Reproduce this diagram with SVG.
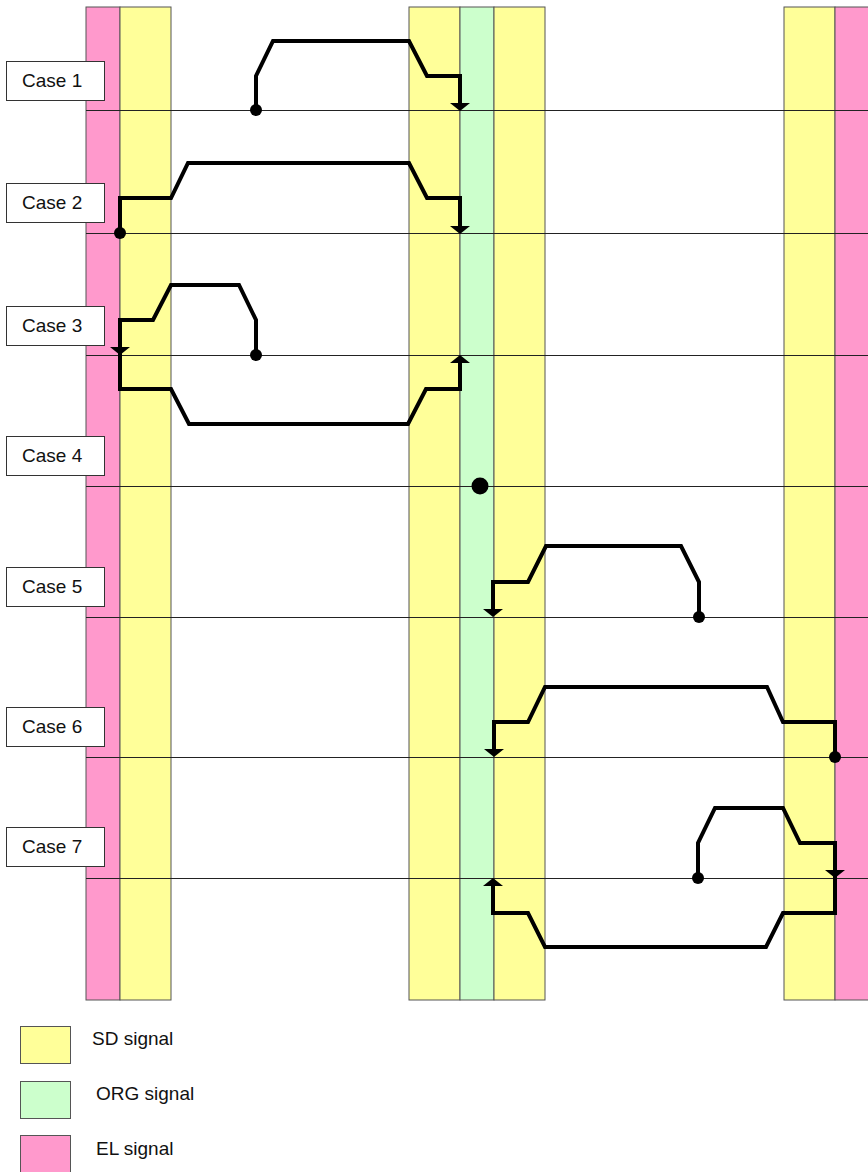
<svg xmlns="http://www.w3.org/2000/svg" xmlns:xlink="http://www.w3.org/1999/xlink" width="868" height="1172" viewBox="0 0 868 1172">
<style>
.sd{fill:#FFFF99;stroke:#555;stroke-width:1}
.org{fill:#CCFFCC;stroke:#555;stroke-width:1}
.el{fill:#FF99CC;stroke:#555;stroke-width:1}
.hl{stroke:#222;stroke-width:1;fill:none}
.box{fill:#fff;stroke:#333;stroke-width:1}
.lbl{font-family:"Liberation Sans",Arial,sans-serif;font-size:19px;fill:#111}
.sig{fill:none;stroke:#000;stroke-width:4;stroke-linejoin:miter}
.dot{fill:#000}
</style>
<defs>
<path id="adown" d="M-10,-8 L10,-8 L0,0 Z" fill="#000"/>
<path id="aup" d="M-10,8 L10,8 L0,0 Z" fill="#000"/>
</defs>
<g id="stripes">
<rect class="el" x="86" y="7" width="34" height="993"/>
<rect class="sd" x="120" y="7" width="51" height="993"/>
<rect class="sd" x="409" y="7" width="51" height="993"/>
<rect class="org" x="460" y="7" width="34" height="993"/>
<rect class="sd" x="494" y="7" width="51" height="993"/>
<rect class="sd" x="784" y="7" width="51" height="993"/>
<rect class="el" x="835" y="7" width="40" height="993"/>
</g>
<g id="lines">
<line class="hl" x1="86" y1="110.5" x2="868" y2="110.5"/>
<line class="hl" x1="86" y1="233.5" x2="868" y2="233.5"/>
<line class="hl" x1="86" y1="355.5" x2="868" y2="355.5"/>
<line class="hl" x1="86" y1="486.5" x2="868" y2="486.5"/>
<line class="hl" x1="86" y1="617.5" x2="868" y2="617.5"/>
<line class="hl" x1="86" y1="757.5" x2="868" y2="757.5"/>
<line class="hl" x1="86" y1="878.5" x2="868" y2="878.5"/>
</g>
<g id="case1"><rect class="box" x="6.5" y="61.5" width="98" height="39"/><text class="lbl" x="22" y="87">Case 1</text></g>
<g id="case2"><rect class="box" x="6.5" y="183.5" width="98" height="39"/><text class="lbl" x="22" y="209">Case 2</text></g>
<g id="case3"><rect class="box" x="6.5" y="306.5" width="98" height="39"/><text class="lbl" x="22" y="332">Case 3</text></g>
<g id="case4"><rect class="box" x="6.5" y="436.5" width="98" height="39"/><text class="lbl" x="22" y="462">Case 4</text></g>
<g id="case5"><rect class="box" x="6.5" y="567.5" width="98" height="39"/><text class="lbl" x="22" y="593">Case 5</text></g>
<g id="case6"><rect class="box" x="6.5" y="707.5" width="98" height="39"/><text class="lbl" x="22" y="733">Case 6</text></g>
<g id="case7"><rect class="box" x="6.5" y="827.5" width="98" height="39"/><text class="lbl" x="22" y="853">Case 7</text></g>
<g id="connectors">
<path class="sig" d="M256,110 V76 L273,41 H409 L427,76 H460 V104"/>
<use xlink:href="#adown" x="460" y="111"/>
<circle class="dot" cx="256" cy="110" r="6"/>

<path class="sig" d="M120,233 V198 H171 L188,163 H409 L427,198 H460 V227"/>
<use xlink:href="#adown" x="460" y="234"/>
<circle class="dot" cx="120" cy="233" r="6"/>

<path class="sig" d="M256,355 V320 L239,285 H171 L153,320 H120 V348"/>
<use xlink:href="#adown" x="120" y="355"/>
<path class="sig" d="M120,350 V389 H171 L189,424 H408 L426,389 H460 V362"/>
<use xlink:href="#aup" x="460" y="355"/>
<circle class="dot" cx="256" cy="355" r="6"/>

<circle class="dot" cx="480" cy="486" r="8.5"/>

<path class="sig" d="M699,617 V582 L681,546 H546 L528,582 H493 V610"/>
<use xlink:href="#adown" x="493" y="617"/>
<circle class="dot" cx="699" cy="617" r="6"/>

<path class="sig" d="M835,757 V722 H783 L767,687 H545 L528,722 H494 V750"/>
<use xlink:href="#adown" x="494" y="757"/>
<circle class="dot" cx="835" cy="757" r="6"/>

<path class="sig" d="M698,878 V843 L715,808 H783 L800,843 H835 V871"/>
<use xlink:href="#adown" x="835" y="878"/>
<path class="sig" d="M835,873 V913 H783 L766,947 H545 L528,913 H493 V885"/>
<use xlink:href="#aup" x="493" y="878"/>
<circle class="dot" cx="698" cy="878" r="6"/>
</g>
<g id="legend">
<rect class="sd" x="20.5" y="1026.5" width="50" height="37"/>
<text class="lbl" x="92" y="1045">SD signal</text>
<rect class="org" x="20.5" y="1081.5" width="50" height="37"/>
<text class="lbl" x="96" y="1100">ORG signal</text>
<rect class="el" x="20.5" y="1135.5" width="50" height="40"/>
<text class="lbl" x="96" y="1155">EL signal</text>
</g>
</svg>
